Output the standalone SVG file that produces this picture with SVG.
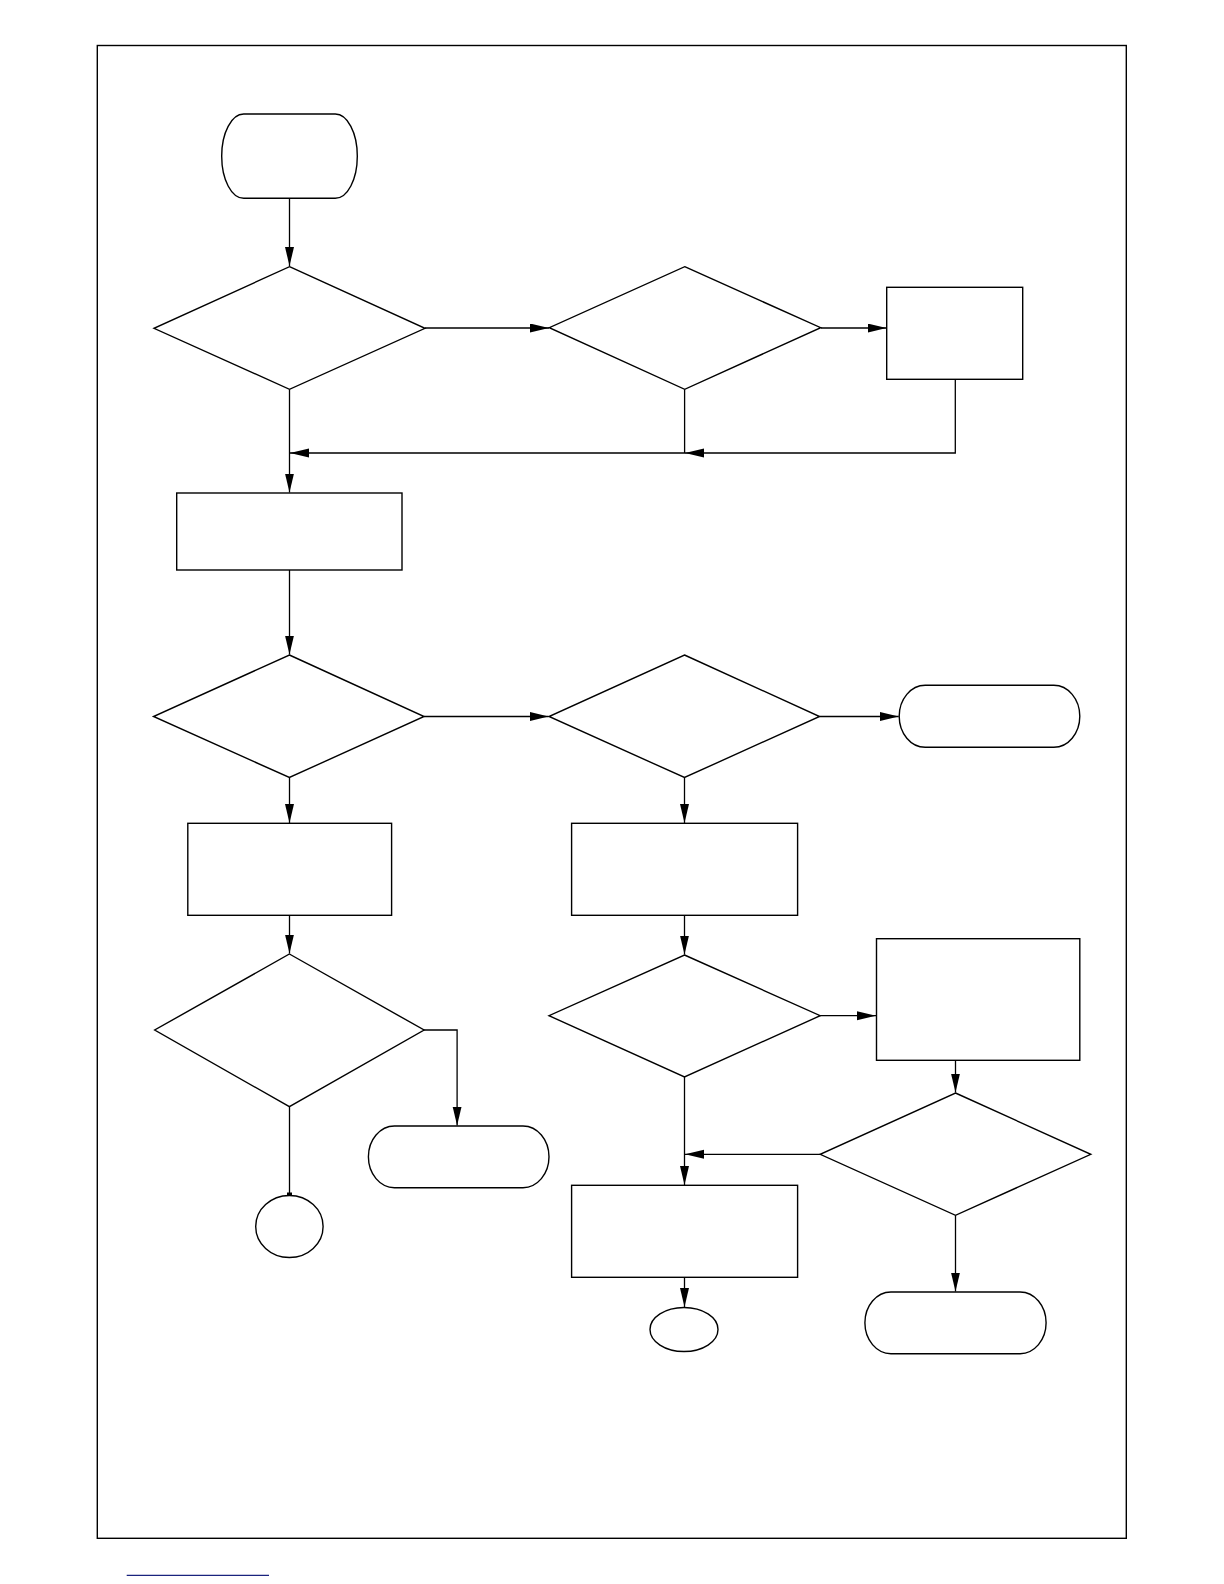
<svg xmlns="http://www.w3.org/2000/svg" width="1224" height="1584" viewBox="0 0 1224 1584">
<style>
.s{fill:#fff;stroke:#000;stroke-width:1.4}
.c{fill:none;stroke:#000;stroke-width:1.3}
</style>
<defs>
<marker id="ah" markerUnits="userSpaceOnUse" markerWidth="20" markerHeight="10" refX="19" refY="4.5" orient="auto">
<path d="M0,0 L19,4.5 L0,9 z" fill="#000"/>
</marker>
</defs>
<rect x="0" y="0" width="1224" height="1584" fill="#fff"/>
<rect x="97.3" y="45.5" width="1029" height="1492.8" fill="none" stroke="#000" stroke-width="1.4"/>
<line x1="126.7" y1="1575.3" x2="269" y2="1575.3" stroke="#1a237e" stroke-width="1.3"/>

<g id="connectors">
<path class="c" d="M289.5,198.5 V266" marker-end="url(#ah)"/>
<path class="c" d="M425,328 H549" marker-end="url(#ah)"/>
<path class="c" d="M821,328 H886.5" marker-end="url(#ah)"/>
<path class="c" d="M955.3,379.3 V453 H685" marker-end="url(#ah)"/>
<path class="c" d="M684.6,389.3 V453 H290" marker-end="url(#ah)"/>
<path class="c" d="M289.5,389.3 V492.5" marker-end="url(#ah)"/>
<path class="c" d="M289.5,570 V654.5" marker-end="url(#ah)"/>
<path class="c" d="M424.1,716.5 H548.5" marker-end="url(#ah)"/>
<path class="c" d="M819.6,716.5 H898.7" marker-end="url(#ah)"/>
<path class="c" d="M289.5,777.5 V823" marker-end="url(#ah)"/>
<path class="c" d="M684.5,777.5 V823" marker-end="url(#ah)"/>
<path class="c" d="M289.5,915.3 V953.5" marker-end="url(#ah)"/>
<path class="c" d="M684.5,915.3 V954.5" marker-end="url(#ah)"/>
<path class="c" d="M424.1,1030 H457.1 V1125.5" marker-end="url(#ah)"/>
<path class="c" d="M289.5,1106.7 V1195.7"/>
<rect x="287" y="1192.5" width="5" height="4" fill="#000"/>
<path class="c" d="M820.2,1015.7 H876" marker-end="url(#ah)"/>
<path class="c" d="M955.5,1060.3 V1092.5" marker-end="url(#ah)"/>
<path class="c" d="M820.2,1154.3 H685" marker-end="url(#ah)"/>
<path class="c" d="M684.5,1077 V1185" marker-end="url(#ah)"/>
<path class="c" d="M684.5,1277.3 V1307" marker-end="url(#ah)"/>
<path class="c" d="M955.5,1215.3 V1291.5" marker-end="url(#ah)"/>
</g>

<g id="start"><rect class="s" x="221.7" y="114" width="135.6" height="84.3" rx="22" ry="42"/></g>
<g id="d1"><polygon class="s" points="289.5,266.7 425,328.3 289.5,389.3 154,328.3"/></g>
<g id="d2"><polygon class="s" points="684.7,266.7 820.7,327.7 684.7,389.3 549.3,327.7"/></g>
<g id="r1"><rect class="s" x="886.7" y="287.3" width="136" height="92"/></g>
<g id="r2"><rect class="s" x="176.7" y="493" width="225.3" height="77"/></g>
<g id="d3"><polygon class="s" points="289.4,655 424.1,716.5 289.4,777.5 153.5,716.5"/></g>
<g id="d4"><polygon class="s" points="684.5,655 819.6,716.5 684.5,777.5 549,716.5"/></g>
<g id="t1"><rect class="s" x="899.2" y="685.3" width="180.6" height="62" rx="26" ry="31"/></g>
<g id="r3"><rect class="s" x="187.8" y="823.3" width="203.8" height="92"/></g>
<g id="r4"><rect class="s" x="571.6" y="823.3" width="226" height="92"/></g>
<g id="d5"><polygon class="s" points="289.4,954 424.1,1030 289.4,1106.7 154.7,1030"/></g>
<g id="d6"><polygon class="s" points="684.5,955 820.2,1015.7 684.5,1077 549,1015.7"/></g>
<g id="r5"><rect class="s" x="876.5" y="938.7" width="203.3" height="121.6"/></g>
<g id="d7"><polygon class="s" points="955.5,1093 1090.8,1154.3 955.5,1215.3 820.2,1154.3"/></g>
<g id="t2"><rect class="s" x="368.4" y="1126" width="180.6" height="61.7" rx="26" ry="31"/></g>
<g id="c1"><ellipse class="s" cx="289.4" cy="1226.5" rx="33.7" ry="31"/></g>
<g id="r6"><rect class="s" x="571.6" y="1185.3" width="226" height="92"/></g>
<g id="c2"><ellipse class="s" cx="684" cy="1329.5" rx="34" ry="22"/></g>
<g id="t3"><rect class="s" x="864.9" y="1292" width="181.2" height="61.7" rx="26" ry="31"/></g>
</svg>
